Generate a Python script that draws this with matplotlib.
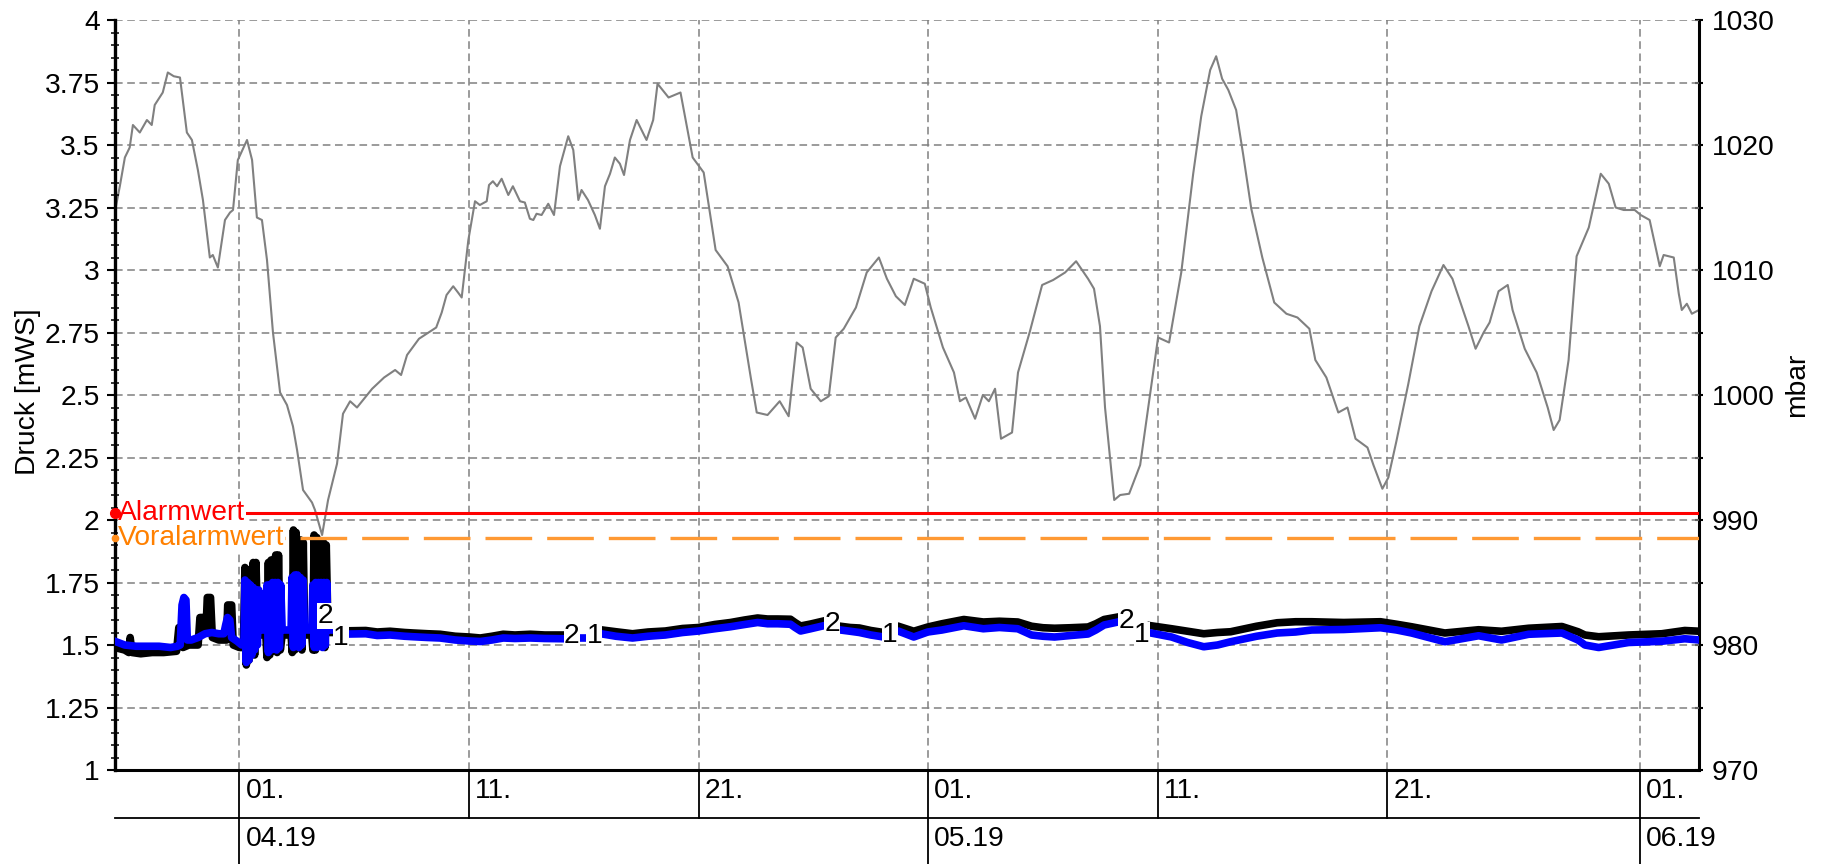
import numpy as np
import pandas as pd
import matplotlib
matplotlib.use('Agg')
import matplotlib.pyplot as plt
import matplotlib.transforms as mtransforms

plt.rcParams['font.family'] = ['Liberation Sans', 'DejaVu Sans']
plt.rcParams['font.size'] = 20.3

base = pd.Timestamp('2019-04-01')


def to_time(days):
    return base + pd.to_timedelta(np.array(days, dtype=float), unit='D')


# --- data (day offsets from 01.04.2019) ---
x_start, x_end = -5.42, 63.57

alarm_value = 2.03
prealarm_value = 1.93

# segment A (with pump spikes), both sensors own timestamps
t_blue_a = [-5.43, -5.0, -4.5, -4.0, -3.5, -3.0, -2.7, -2.58, -2.5, -2.42, -2.33, -2.27, -2.1, -1.8, -1.5, -1.2,
            -0.9, -0.68, -0.6, -0.52, -0.42, -0.34, -0.1, 0.1, 0.2,
            0.24, 0.30, 0.36, 0.42, 0.48, 0.54, 0.60, 0.66, 0.72, 0.78, 0.84, 0.88, 1.15,
            1.2, 1.26, 1.32, 1.38, 1.44, 1.50, 1.56, 1.62, 1.68, 1.74, 1.80, 1.86, 2.25,
            2.29, 2.35, 2.41, 2.47, 2.53, 2.59, 2.65, 2.71, 2.77, 2.83, 3.15,
            3.2, 3.26, 3.32, 3.38, 3.44, 3.50, 3.56, 3.62, 3.68, 3.74, 3.80, 3.84, 3.93]
blue_a = [1.515, 1.50, 1.495, 1.495, 1.495, 1.49, 1.495, 1.50, 1.66, 1.69, 1.68, 1.52, 1.52, 1.53, 1.545, 1.55,
          1.545, 1.545, 1.58, 1.61, 1.60, 1.53, 1.515, 1.50, 1.52,
          1.76, 1.43, 1.75, 1.44, 1.74, 1.46, 1.73, 1.48, 1.72, 1.50, 1.72, 1.56, 1.56,
          1.74, 1.47, 1.74, 1.48, 1.75, 1.50, 1.75, 1.48, 1.75, 1.49, 1.74, 1.56, 1.56,
          1.77, 1.49, 1.78, 1.50, 1.78, 1.49, 1.77, 1.50, 1.76, 1.56, 1.56,
          1.74, 1.49, 1.75, 1.49, 1.75, 1.50, 1.75, 1.49, 1.75, 1.50, 1.75, 1.56, 1.56]
t_black_a = [-5.43, -5.0, -4.82, -4.76, -4.68, -4.3, -3.8, -3.3, -2.74, -2.64, -2.53, -2.46, -2.2, -1.8, -1.72,
             -1.55, -1.46, -1.40, -1.26, -1.18, -0.9, -0.56, -0.51, -0.34, -0.27, 0.0, 0.17,
             0.24, 0.30, 0.36, 0.42, 0.5, 0.6, 0.66, 0.72, 0.8, 1.15,
             1.2, 1.26, 1.32, 1.38, 1.5, 1.58, 1.64, 1.70, 1.78, 1.86, 2.25,
             2.3, 2.35, 2.41, 2.47, 2.55, 2.66, 2.72, 2.78, 2.84, 3.15,
             3.2, 3.25, 3.31, 3.37, 3.46, 3.66, 3.72, 3.78, 3.86, 3.95]
black_a = [1.49, 1.48, 1.47, 1.53, 1.47, 1.465, 1.47, 1.47, 1.475, 1.57, 1.57, 1.49, 1.50, 1.50, 1.61, 1.61,
           1.55, 1.69, 1.69, 1.53, 1.52, 1.52, 1.66, 1.66, 1.50, 1.49, 1.49,
           1.81, 1.42, 1.80, 1.44, 1.54, 1.83, 1.46, 1.83, 1.54, 1.54,
           1.45, 1.83, 1.46, 1.84, 1.52, 1.86, 1.47, 1.86, 1.48, 1.54, 1.54,
           1.47, 1.96, 1.48, 1.95, 1.54, 1.92, 1.48, 1.91, 1.54, 1.54,
           1.48, 1.94, 1.48, 1.93, 1.52, 1.91, 1.49, 1.90, 1.55, 1.55]

# later segments, shared timestamps
t_b = [4.86, 5.5, 6.0, 6.56, 7.2, 7.57, 8.2, 8.74, 9.4, 10.01, 10.49, 11.0, 11.49, 12.0, 12.67, 13.3, 14.11]
blue_b = [1.544, 1.545, 1.538, 1.54, 1.535, 1.533, 1.53, 1.528, 1.52, 1.516, 1.514, 1.52, 1.528, 1.526, 1.528,
          1.526, 1.525]
black_b = [1.557, 1.558, 1.552, 1.555, 1.55, 1.548, 1.545, 1.543, 1.535, 1.532, 1.528, 1.535, 1.543, 1.54, 1.543,
           1.54, 1.54]

t_blue_bit = [14.98, 15.06]
blue_bit = [1.53, 1.53]

t_c = [15.81, 16.4, 17.12, 17.8, 18.55, 19.3, 20.0, 20.7, 21.39, 22.0, 22.57, 23.0, 23.44, 24.0, 24.2, 24.44,
       24.88, 25.44]
blue_c = [1.544, 1.535, 1.528, 1.535, 1.54, 1.55, 1.556, 1.565, 1.573, 1.582, 1.59, 1.585, 1.585, 1.583, 1.57,
          1.556, 1.565, 1.577]
black_c = [1.56, 1.553, 1.545, 1.552, 1.556, 1.566, 1.57, 1.582, 1.59, 1.6, 1.608, 1.604, 1.604, 1.603, 1.59,
           1.576, 1.584, 1.596]

t_d = [26.18, 26.6, 27.0, 27.5, 28.06]
blue_d = [1.56, 1.555, 1.55, 1.54, 1.532]
black_d = [1.575, 1.57, 1.568, 1.558, 1.55]

t_e = [28.8, 29.37, 29.98, 30.6, 31.55, 32.4, 33.1, 33.9, 34.5, 35.0, 35.5, 36.2, 36.96, 37.3, 37.66, 38.26]
blue_e = [1.552, 1.532, 1.552, 1.56, 1.577, 1.565, 1.57, 1.565, 1.54, 1.535, 1.532, 1.538, 1.544, 1.56, 1.58,
          1.592]
black_e = [1.572, 1.555, 1.572, 1.585, 1.602, 1.592, 1.595, 1.592, 1.575, 1.569, 1.567, 1.569, 1.572, 1.585,
           1.602, 1.612]

t_f = [39.7, 40.6, 41.3, 42.0, 42.6, 43.17, 44.3, 45.2, 46.0, 46.7, 48.1, 49.7, 50.4, 51.05, 52.5, 53.97, 54.97,
       56.15, 57.6, 58.3, 58.6, 59.2, 60.5, 61.95, 62.95, 63.6]
blue_f = [1.548, 1.532, 1.51, 1.493, 1.5, 1.513, 1.535, 1.548, 1.552, 1.56, 1.562, 1.569, 1.56, 1.548, 1.513,
          1.537, 1.52, 1.543, 1.548, 1.52, 1.50, 1.49, 1.51, 1.515, 1.525, 1.52]
black_f = [1.577, 1.565, 1.555, 1.545, 1.55, 1.553, 1.575, 1.589, 1.593, 1.593, 1.59, 1.593, 1.583, 1.573, 1.548,
           1.561, 1.555, 1.567, 1.574, 1.553, 1.54, 1.533, 1.54, 1.545, 1.558, 1.555]

# air pressure [mbar]
t_air = [-5.43, -5.21, -4.99, -4.78, -4.64, -4.34, -4.03, -3.82, -3.69, -3.34, -3.12, -2.86, -2.59, -2.29, -2.07,
         -1.81, -1.59, -1.29, -1.16, -0.94, -0.63, -0.41, -0.28, -0.07, 0.33, 0.55, 0.76, 0.98, 1.20, 1.46, 1.77,
         2.07, 2.33, 2.51, 2.77, 3.16, 3.29, 3.60, 3.86, 4.25, 4.51, 4.82, 5.12, 5.47, 5.78, 6.30, 6.78, 7.04,
         7.30, 7.82, 8.57,
         8.81, 9.02, 9.31, 9.52, 9.68, 9.82, 9.97, 10.26, 10.47, 10.77, 10.87, 11.04, 11.22, 11.42, 11.71, 11.91,
         12.22, 12.43, 12.65, 12.80, 12.94, 13.16, 13.45, 13.70, 13.96, 14.32, 14.54, 14.76, 14.90, 15.18, 15.48,
         15.70, 15.92, 16.14, 16.35, 16.57, 16.75, 17.01, 17.30, 17.73, 18.02,
         18.21, 18.69, 19.21, 19.74, 20.22,
         20.74, 21.26, 21.74, 22.27, 22.53, 23.0, 23.53, 23.92, 24.27, 24.53, 24.88, 25.32, 25.67, 25.97, 26.32,
         26.85, 27.32, 27.85, 28.20, 28.59, 28.98, 29.37, 29.85, 30.11, 30.64, 31.12, 31.38, 31.64, 32.04, 32.38,
         32.64, 32.91, 33.17, 33.65, 33.91, 34.43, 34.96, 35.44, 35.96, 36.44, 36.96, 37.22, 37.48, 37.70, 38.10,
         38.36, 38.75, 39.23, 39.66, 40.01, 40.49, 41.02, 41.54, 41.89, 42.28, 42.54, 42.80, 43.07, 43.41, 43.72,
         44.07, 44.55, 45.07, 45.60, 46.08, 46.60, 46.86, 47.34, 47.86, 48.26, 48.61, 49.13, 49.39, 49.78, 50.04,
         50.39, 50.91, 51.39, 51.92, 52.44, 52.83, 53.18, 53.53, 53.84, 54.19, 54.45, 54.84, 55.24, 55.45, 55.98,
         56.50, 56.98, 57.24, 57.50, 57.89, 58.24, 58.77, 59.29, 59.64, 59.94, 60.29, 60.77, 61.03, 61.42, 61.73,
         61.86, 62.03, 62.47, 62.69, 62.82, 63.04, 63.26, 63.57]
air = [1014.6, 1016.7, 1019.0, 1019.8, 1021.6, 1021.0, 1022.0, 1021.6, 1023.2, 1024.2, 1025.8, 1025.5, 1025.4,
       1021.0, 1020.4, 1018.0, 1015.6, 1011.0, 1011.2, 1010.2, 1014.0, 1014.6, 1014.8, 1018.8, 1020.4, 1018.8,
       1014.2, 1014.0, 1010.8, 1005.0, 1000.2, 999.2, 997.5, 995.6, 992.4, 991.4, 990.8, 988.8, 991.6, 994.5,
       998.5, 999.5, 999.0, 999.8, 1000.5, 1001.4, 1002.0, 1001.6, 1003.2, 1004.5, 1005.4,
       1006.6, 1008.0, 1008.7, 1008.2, 1007.8, 1010.0, 1012.4, 1015.5, 1015.2, 1015.5, 1016.8, 1017.1, 1016.7,
       1017.3, 1016.0, 1016.7, 1015.5, 1015.4, 1014.1, 1014.0, 1014.5, 1014.4, 1015.3, 1014.4, 1018.3, 1020.7,
       1019.6, 1015.6, 1016.4, 1015.6, 1014.4, 1013.3, 1016.7, 1017.7, 1019.0, 1018.5, 1017.6, 1020.4, 1022.0,
       1020.4, 1022.0,
       1024.9, 1023.8, 1024.2, 1019.0, 1017.8,
       1011.6, 1010.3, 1007.4, 1001.4, 998.6, 998.4, 999.5, 998.3, 1004.2, 1003.8, 1000.5, 999.5, 999.9, 1004.6,
       1005.3, 1007.0, 1009.8, 1011.0, 1009.3, 1007.9, 1007.2, 1009.3, 1008.9, 1007.0, 1003.8, 1001.8, 999.5,
       999.8, 998.1, 1000.0, 999.5, 1000.5, 996.5, 997.0, 1001.8, 1005.1, 1008.8, 1009.2, 1009.8, 1010.7, 1009.3,
       1008.5, 1005.5, 999.0, 991.6, 992.0, 992.1, 994.4, 1000.0, 1004.6, 1004.2, 1009.8, 1017.7, 1022.3,
       1026.0, 1027.1, 1025.3, 1024.4, 1022.8, 1019.2, 1014.9, 1011.0, 1007.4, 1006.5, 1006.2, 1005.3, 1002.8,
       1001.4, 998.6, 999.0, 996.5, 995.8, 994.4, 992.5, 993.4, 996.3, 1000.9, 1005.5, 1008.3, 1010.4, 1009.3,
       1007.4, 1005.5, 1003.7, 1005.0, 1005.8, 1008.3, 1008.8, 1006.8, 1003.7, 1001.8, 999.0, 997.2, 998.0,
       1002.8, 1011.1, 1013.4, 1017.7, 1016.9, 1015.0, 1014.8, 1014.8, 1014.4, 1014.0, 1011.4, 1010.3, 1011.2,
       1011.0, 1008.1, 1006.8, 1007.3, 1006.5, 1006.8]

# "2"/"1" markers at the data gaps
gap_t = [3.75, 4.43, 14.48, 15.46, 25.82, 28.33, 38.62, 39.3]
gap_v = [1.616, 1.53, 1.536, 1.536, 1.584, 1.54, 1.596, 1.54]
gap_txt = ['2', '1', '2', '1', '2', '1', '2', '1']

day_ticks = ['2019-04-01', '2019-04-11', '2019-04-21', '2019-05-01', '2019-05-11', '2019-05-21', '2019-06-01']
day_labels = ['01.', '11.', '21.', '01.', '11.', '21.', '01.']
month_ticks = ['2019-04-01', '2019-05-01', '2019-06-01']
month_labels = ['04.19', '05.19', '06.19']

# --- figure ---
W, H = 1823, 864
fig = plt.figure(figsize=(W / 100, H / 100), dpi=100)
ax = fig.add_axes([115 / W, 1 - 770 / H, 1584 / W, 750 / H])
ax2 = ax.twinx()

ax2.plot(to_time(t_air), air, color='#808080', lw=1.5)
ax2.set_ylim(970, 1030)
ax2.set_yticks(np.arange(970, 1031, 10))
ax2.set_yticks(np.arange(975, 1030, 10), minor=True)
ax2.tick_params(axis='y', which='both', direction='inout', length=6, width=1.5, pad=6, labelsize=20.3)
for s in ['left', 'top', 'bottom']:
    ax2.spines[s].set_visible(False)
ax2.spines['right'].set_linewidth(2.2)

ax.set_zorder(ax2.get_zorder() + 1)
ax.patch.set_visible(False)

segments = [
    (t_black_a, black_a, t_blue_a, blue_a),
    (t_b, black_b, t_b, blue_b),
    (t_c, black_c, t_c, blue_c),
    (t_d, black_d, t_d, blue_d),
    (t_e, black_e, t_e, blue_e),
    (t_f, black_f, t_f, blue_f),
]
for tk, vk, tb, vb in segments:
    ax.plot(to_time(tk), vk, color='black', lw=5.5, zorder=3)
    ax.plot(to_time(tb), vb, color='#0000ff', lw=5.5, zorder=4)
ax.plot(to_time(t_blue_bit), blue_bit, color='#0000ff', lw=5.5, zorder=4)

ax.axhline(alarm_value, color='#ff0000', lw=2.2, zorder=5)
ax.axhline(prealarm_value, color='#ff9933', lw=2.4, linestyle=(0, (14, 4.5)), zorder=5)
ax.plot(to_time([x_start]), [alarm_value], 'o', color='#ff0000', ms=7, clip_on=False, zorder=7)
ax.plot(to_time([x_start]), [prealarm_value], 'o', color='#ff8c1a', ms=4.5, clip_on=False, zorder=7)

lab_tr = mtransforms.blended_transform_factory(ax.transAxes, ax.transData)
ax.text(0.002, alarm_value, 'Alarmwert', color='#ff0000', ha='left', va='center', transform=lab_tr,
        zorder=6, bbox=dict(facecolor='white', edgecolor='none', pad=0.5))
ax.text(0.002, prealarm_value, 'Voralarmwert', color='#ff8000', ha='left', va='center', transform=lab_tr,
        zorder=6, bbox=dict(facecolor='white', edgecolor='none', pad=0.5))

for t, v, s in zip(gap_t, gap_v, gap_txt):
    ax.text(to_time([t])[0], v, s, ha='center', va='center', zorder=6,
            bbox=dict(facecolor='white', edgecolor='none', pad=0.3))

ax.set_xlim(to_time([x_start])[0], to_time([x_end])[0])
ax.set_ylim(1, 4)
ax.set_yticks(np.arange(1, 4.01, 0.25))
ax.set_yticks(np.arange(1, 4.001, 0.05), minor=True)
ax.set_yticklabels(['%g' % v for v in np.arange(1, 4.01, 0.25)])
ax.tick_params(axis='y', which='major', direction='out', length=5.5, width=1.5, pad=5.5, labelsize=20.3)
ax.tick_params(axis='y', which='minor', direction='inout', length=6, width=1.1)

ax.set_xticks(pd.to_datetime(day_ticks))
ax.tick_params(axis='x', which='both', length=0, labelbottom=False)
ax.grid(True, color='#808080', linestyle=(0, (5, 3)), linewidth=1.1)
ax.set_axisbelow(True)

ax.spines['top'].set_visible(False)
ax.spines['right'].set_visible(False)
ax.spines['left'].set_linewidth(2.4)
ax.spines['bottom'].set_linewidth(2.2)

# two-level date axis
sep_y = -(818 - 770) / 750
bot_y = -(870 - 770) / 750
trx = mtransforms.blended_transform_factory(ax.transData, ax.transAxes)
off = mtransforms.ScaledTranslation(6 / 100, 0, fig.dpi_scale_trans)
ax.plot([0, 1], [sep_y, sep_y], color='black', lw=1.3, transform=ax.transAxes, clip_on=False)
for d, lab in zip(pd.to_datetime(day_ticks), day_labels):
    ax.plot([d, d], [0, sep_y], color='black', lw=1.3, transform=trx, clip_on=False)
    ax.text(d, -(791 - 770) / 750, lab, ha='left', va='center', transform=trx + off)
for d, lab in zip(pd.to_datetime(month_ticks), month_labels):
    ax.plot([d, d], [sep_y, bot_y], color='black', lw=1.3, transform=trx, clip_on=False)
    ax.text(d, -(839 - 770) / 750, lab, ha='left', va='center', transform=trx + off)

fig.text(28 / W, 1 - 392 / H, 'Druck [mWS]', rotation=90, ha='center', va='center', fontsize=20.3)
fig.text(1797 / W, 1 - 385 / H, 'mbar', rotation=90, ha='center', va='center', fontsize=20.3)

fig.savefig('out.png', dpi=100)
